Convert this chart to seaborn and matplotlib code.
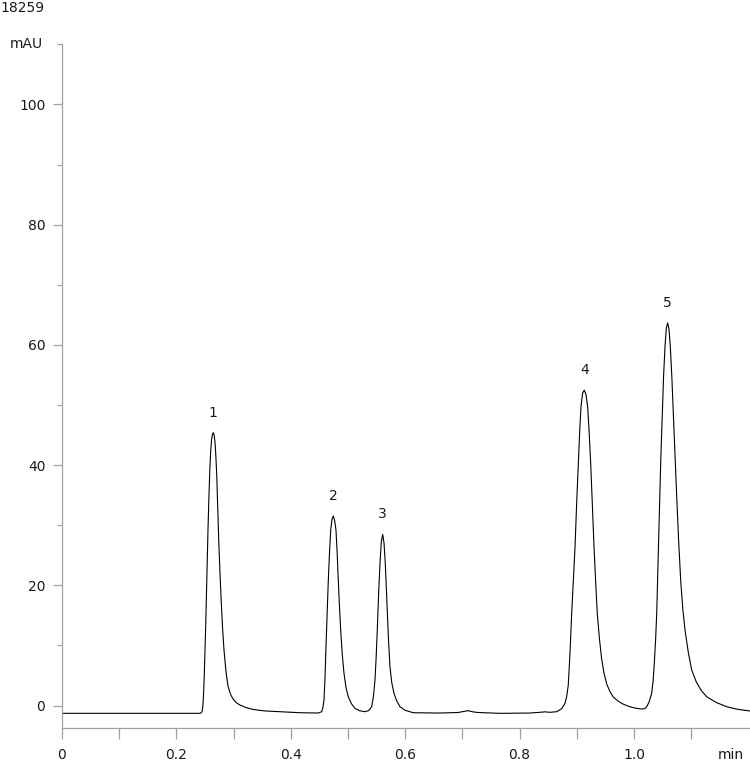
import numpy as np
import pandas as pd
import matplotlib
matplotlib.use("Agg")
import matplotlib.pyplot as plt
import seaborn as sns
from matplotlib.ticker import FixedLocator, MultipleLocator

# chromatogram trace (time in min, signal in mAU)
time_min = [
    0.0, 0.1189, 0.2413, 0.2445, 0.2462, 0.2474, 0.2487, 0.2500, 0.2513, 0.2526,
    0.2539, 0.2552, 0.2568, 0.2584, 0.2599, 0.2614, 0.2630, 0.2645, 0.2660, 0.2675,
    0.2690, 0.2705, 0.2722, 0.2740, 0.2762, 0.2785, 0.2808, 0.2832, 0.2865, 0.2902,
    0.2945, 0.2990, 0.3050, 0.3112, 0.3220, 0.3344, 0.3550, 0.3811, 0.4161, 0.4476,
    0.4540, 0.4562, 0.4580, 0.4598, 0.4615, 0.4636, 0.4656, 0.4677, 0.4698, 0.4720,
    0.4743, 0.4766, 0.4790, 0.4810, 0.4830, 0.4851, 0.4872, 0.4900, 0.4930, 0.4965,
    0.5005, 0.5060, 0.5122, 0.5200, 0.5297, 0.5360, 0.5414, 0.5445, 0.5472, 0.5492,
    0.5512, 0.5535, 0.5559, 0.5583, 0.5607, 0.5630, 0.5652, 0.5670, 0.5687, 0.5710,
    0.5734, 0.5765, 0.5804, 0.5850, 0.5909, 0.6000, 0.6142, 0.6608, 0.6923, 0.7020,
    0.7098, 0.7180, 0.7273, 0.7657, 0.8182, 0.8357, 0.8444, 0.8531, 0.8649, 0.8740,
    0.8794, 0.8825, 0.8851, 0.8880, 0.8911, 0.8940, 0.8969, 0.8997, 0.9026, 0.9050,
    0.9073, 0.9102, 0.9131, 0.9160, 0.9190, 0.9216, 0.9243, 0.9272, 0.9301, 0.9330,
    0.9358, 0.9395, 0.9432, 0.9475, 0.9523, 0.9580, 0.9638, 0.9720, 0.9808, 0.9910,
    1.0017, 1.0100, 1.0157, 1.0195, 1.0222, 1.0265, 1.0309, 1.0335, 1.0355, 1.0377,
    1.0397, 1.0420, 1.0442, 1.0468, 1.0495, 1.0518, 1.0542, 1.0565, 1.0589, 1.0612,
    1.0635, 1.0660, 1.0687, 1.0717, 1.0747, 1.0780, 1.0816, 1.0852, 1.0892, 1.0950,
    1.1009, 1.1090, 1.1180, 1.1271, 1.1440, 1.1621, 1.1820, 1.2028,
]
signal_mau = [
    -1.30, -1.30, -1.30, -1.10, -0.20, 1.75, 5.00, 9.23, 13.50, 18.37,
    23.80, 29.18, 34.50, 39.16, 42.20, 44.15, 45.10, 45.39, 45.00, 43.80,
    41.50, 38.33, 33.20, 27.52, 22.00, 17.04, 12.80, 9.23, 5.80, 3.24,
    1.90, 1.08, 0.45, 0.08, -0.35, -0.67, -0.90, -1.03, -1.20, -1.25,
    -1.03, -0.30, 0.91, 4.50, 9.78, 15.50, 20.87, 25.50, 29.18, 31.00,
    31.51, 30.80, 29.18, 25.50, 20.87, 16.50, 12.55, 8.50, 5.35, 3.00,
    1.46, 0.30, -0.47, -0.85, -1.03, -0.85, -0.20, 1.50, 4.24, 8.00,
    12.55, 18.50, 23.64, 27.30, 28.47, 27.00, 23.64, 19.50, 15.33, 10.50,
    6.45, 3.80, 2.03, 0.80, -0.20, -0.80, -1.20, -1.25, -1.16, -1.00,
    -0.86, -1.05, -1.16, -1.30, -1.25, -1.13, -1.05, -1.13, -1.03, -0.50,
    0.37, 1.60, 3.41, 8.50, 15.33, 20.80, 26.40, 33.50, 40.27, 45.50,
    49.68, 52.00, 52.46, 51.80, 49.68, 45.50, 40.27, 33.30, 26.40, 20.50,
    15.33, 11.20, 7.90, 5.40, 3.57, 2.30, 1.41, 0.75, 0.25, -0.15,
    -0.42, -0.55, -0.58, -0.45, -0.20, 0.60, 2.03, 4.20, 7.02, 10.80,
    15.33, 23.50, 31.96, 40.80, 48.59, 55.00, 59.66, 62.80, 63.65, 62.60,
    59.66, 55.00, 48.59, 41.50, 34.72, 27.50, 20.87, 16.20, 12.55, 8.80,
    5.90, 3.90, 2.45, 1.46, 0.50, -0.20, -0.65, -0.91,
]

# peak labels and approximate retention times
peak_names = ["1", "2", "3", "4", "5"]
peak_times = [0.2645, 0.4743, 0.5607, 0.9131, 1.0589]

x_tick_values = [0.0, 0.1, 0.2, 0.3, 0.4, 0.5, 0.6, 0.7, 0.8, 0.9, 1.0, 1.1]
x_tick_labels = ["0", "", "0.2", "", "0.4", "", "0.6", "", "0.8", "", "1.0", ""]
y_tick_values = [0, 20, 40, 60, 80, 100]

df = pd.DataFrame({"time": time_min, "signal": signal_mau})

sns.set_theme(style="ticks")
plt.rcParams["font.family"] = ["DejaVu Sans"]

axis_grey = "#a0a0a0"
text_col = "#1a1a1a"

fig = plt.figure(figsize=(7.5, 7.61), dpi=100)
ax = fig.add_axes([62 / 750, 1 - 728 / 761, 688 / 750, (728 - 44.3) / 761])

sns.lineplot(data=df, x="time", y="signal", ax=ax, color="black",
             linewidth=0.8, sort=False, estimator=None)

ax.set_xlim(0, 1.2028)
ax.set_ylim(-3.74, 110)
ax.set_xlabel("")
ax.set_ylabel("")

for side in ["top", "right"]:
    ax.spines[side].set_visible(False)
for side in ["left", "bottom"]:
    ax.spines[side].set_color(axis_grey)
    ax.spines[side].set_linewidth(0.9)

ax.xaxis.set_major_locator(FixedLocator(x_tick_values))
ax.set_xticklabels(x_tick_labels)
ax.yaxis.set_major_locator(FixedLocator(y_tick_values))
ax.yaxis.set_minor_locator(MultipleLocator(10))

ax.tick_params(axis="x", which="major", length=8, width=0.9, color=axis_grey,
               pad=6.5, labelsize=10, labelcolor=text_col)
ax.tick_params(axis="y", which="major", length=6.5, width=0.9, color=axis_grey,
               pad=5.5, labelsize=10, labelcolor=text_col)
ax.tick_params(axis="y", which="minor", length=3.5, width=0.9, color=axis_grey)

# units
ax.annotate("mAU", xy=(0, 110), xycoords=("axes fraction", "data"),
            xytext=(-13.5, 0), textcoords="offset points",
            ha="right", va="center", fontsize=10, color=text_col)
fig.text(731 / 750, 1 - 748 / 761, "min", ha="center", va="top",
         fontsize=10, color=text_col)

# peak numbers above each apex
for name, rt in zip(peak_names, peak_times):
    near = df[(df["time"] - rt).abs() < 0.01]
    apex = near.loc[near["signal"].idxmax()]
    ax.annotate(name, xy=(apex["time"], apex["signal"]),
                xytext=(0, 14.5), textcoords="offset points",
                ha="center", va="center", fontsize=10, color=text_col)

fig.text(0.0, 1 - 1 / 761, "18259", ha="left", va="top",
         fontsize=10, color=text_col)

fig.savefig("out.png", dpi=100)
